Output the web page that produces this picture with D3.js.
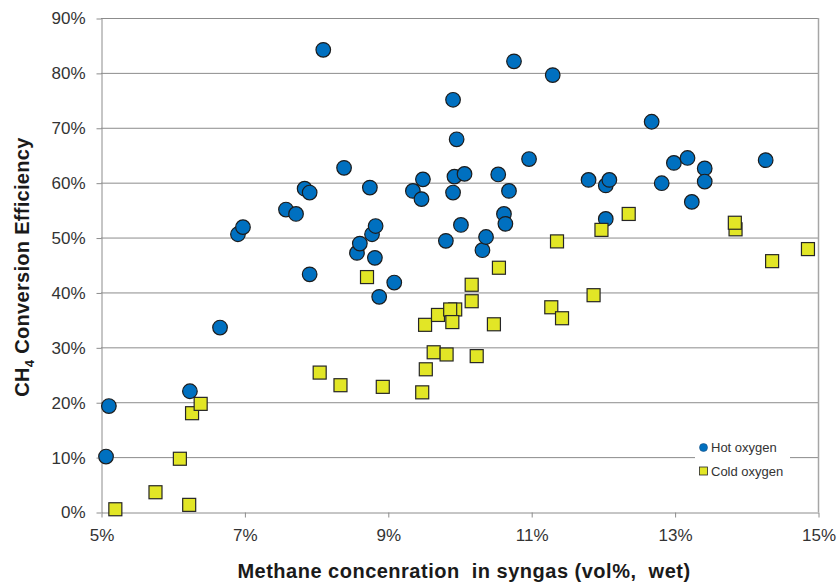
<!DOCTYPE html>
<html>
<head>
<meta charset="utf-8">
<script src="https://cdn.jsdelivr.net/npm/d3@7/dist/d3.min.js"></script>
<style>
  html, body { margin: 0; padding: 0; background: #fff; }
  svg { display: block; font-family: "Liberation Sans", Arial, sans-serif; }
</style>
</head>
<body>
<svg id="chart" width="837" height="584"></svg>
<script>
// Methane concentration (vol%, wet) and CH4 conversion efficiency (%)
const hotX = [5.07, 5.11, 6.24, 6.66, 6.91, 6.98, 7.58, 7.72, 7.84, 7.91, 7.91, 8.10, 8.39,
  8.57, 8.61, 8.75, 8.78, 8.82, 8.83, 8.88, 9.09, 9.35, 9.47, 9.49, 9.81, 9.91, 9.91, 9.93,
  9.96, 10.02, 10.07, 10.32, 10.37, 10.54, 10.62, 10.64, 10.69, 10.76, 10.97, 11.30, 11.80,
  12.04, 12.04, 12.09, 12.68, 12.82, 12.99, 13.18, 13.24, 13.42, 13.42, 14.27];
const hotY = [10.1, 19.3, 22.0, 33.6, 50.6, 51.9, 55.1, 54.3, 58.9, 58.2, 43.3, 84.2, 62.7,
  47.2, 48.9, 59.1, 50.6, 46.3, 52.1, 39.2, 41.8, 58.5, 57.0, 60.6, 49.4, 75.1, 58.2, 61.1,
  67.9, 52.3, 61.6, 47.7, 50.1, 61.5, 54.3, 52.5, 58.5, 82.1, 64.3, 79.6, 60.5,
  59.5, 53.4, 60.5, 71.1, 59.9, 63.6, 64.5, 56.5, 62.6, 60.2, 64.1];

const coldX = [5.20, 5.76, 6.10, 6.23, 6.27, 6.39, 8.05, 8.34, 8.71, 8.93, 9.48, 9.53, 9.52,
  9.64, 9.70, 9.82, 9.94, 9.87, 9.90, 10.17, 10.17, 10.24, 10.48, 10.55, 11.28, 11.36, 11.43,
  11.87, 11.98, 12.36, 13.85, 13.84, 14.36, 14.86];
const coldY = [0.5, 3.6, 9.7, 1.3, 18.0, 19.7, 25.4, 23.1, 42.8, 22.8, 21.8, 26.0, 34.1,
  29.1, 35.9, 28.7, 36.9, 36.9, 34.6, 41.4, 38.4, 28.4, 34.2, 44.5, 37.3, 49.3, 35.3,
  39.5, 51.4, 54.3, 51.5, 52.7, 45.7, 47.9];

const xTicks = [5, 7, 9, 11, 13, 15];
const yTicks = [0, 10, 20, 30, 40, 50, 60, 70, 80, 90];
const seriesNames = ["Hot oxygen", "Cold oxygen"];

const svg = d3.select("#chart");
const plotLeft = 101, plotRight = 818, plotTop = 18, plotBottom = 512;

const x = d3.scaleLinear().domain([5, 15]).range([plotLeft, plotRight]);
const y = d3.scaleLinear().domain([0, 90]).range([plotBottom, plotTop]);

const gridColor = "#8c8c8c";
const textColor = "#333";

// horizontal gridlines
svg.append("g")
  .selectAll("line")
  .data(yTicks.filter(d => d > 0))
  .join("line")
  .attr("x1", plotLeft).attr("x2", plotRight)
  .attr("y1", d => y(d) + 0.5).attr("y2", d => y(d) + 0.5)
  .attr("stroke", gridColor).attr("stroke-width", 1);

// right border of plot area
svg.append("line")
  .attr("x1", plotRight + 0.5).attr("x2", plotRight + 0.5)
  .attr("y1", plotTop).attr("y2", plotBottom)
  .attr("stroke", "#a6a6a6").attr("stroke-width", 1.5);

// y axis
const yAxis = svg.append("g")
  .attr("transform", `translate(${plotLeft + 0.5},0.5)`)
  .call(d3.axisLeft(y).tickValues(yTicks).tickFormat(d => d + "%").tickSize(5).tickSizeOuter(0));
yAxis.select(".domain").attr("stroke", gridColor);
yAxis.selectAll(".tick line").attr("stroke", gridColor);
yAxis.selectAll(".tick text")
  .attr("x", -16)
  .attr("fill", textColor)
  .style("font-size", "17px")
  .style("font-family", "'Liberation Sans', Arial, sans-serif");

// x axis
const xAxis = svg.append("g")
  .attr("transform", `translate(0.5,${plotBottom + 0.5})`)
  .call(d3.axisBottom(x).tickValues(xTicks).tickFormat(d => d + "%").tickSize(5).tickSizeOuter(0));
xAxis.select(".domain").attr("stroke", gridColor);
xAxis.selectAll(".tick line").attr("stroke", gridColor);
xAxis.selectAll(".tick text")
  .attr("y", 16)
  .attr("fill", textColor)
  .style("font-size", "17px")
  .style("font-family", "'Liberation Sans', Arial, sans-serif");

// hot oxygen: blue circles
const hot = hotX.map((v, i) => ({ x: v, y: hotY[i] }));
svg.append("g")
  .selectAll("circle")
  .data(hot)
  .join("circle")
  .attr("cx", d => x(d.x))
  .attr("cy", d => y(d.y))
  .attr("r", 7.3)
  .attr("fill", "#0070c0")
  .attr("stroke", "#1c1c1c")
  .attr("stroke-width", 1.2);

// cold oxygen: yellow squares
const cold = coldX.map((v, i) => ({ x: v, y: coldY[i] }));
const sq = 13;
svg.append("g")
  .selectAll("rect")
  .data(cold)
  .join("rect")
  .attr("x", d => x(d.x) - sq / 2)
  .attr("y", d => y(d.y) - sq / 2)
  .attr("width", sq).attr("height", sq)
  .attr("fill", "#e2e626")
  .attr("stroke", "#262626")
  .attr("stroke-width", 1.2);

// legend
const legend = svg.append("g");
legend.append("rect")
  .attr("x", 695).attr("y", 437).attr("width", 95).attr("height", 46)
  .attr("fill", "#fff");
const lg = legend.selectAll("g.item")
  .data(seriesNames)
  .join("g")
  .attr("class", "item")
  .attr("transform", (d, i) => `translate(703.5,${447.5 + i * 23.5})`);
lg.filter((d, i) => i === 0).append("circle")
  .attr("r", 4).attr("fill", "#0070c0").attr("stroke", "#1c4f80").attr("stroke-width", 0.6);
lg.filter((d, i) => i === 1).append("rect")
  .attr("x", -4).attr("y", -4).attr("width", 8).attr("height", 8)
  .attr("fill", "#e2e626").attr("stroke", "#262626").attr("stroke-width", 0.8);
lg.append("text")
  .attr("x", 7.5).attr("dy", "0.36em")
  .attr("fill", textColor)
  .style("font-size", "13px")
  .text(d => d);

// axis titles
svg.append("text")
  .attr("x", 464).attr("y", 578)
  .attr("text-anchor", "middle")
  .attr("fill", "#1a1a1a")
  .style("font-size", "20px").style("font-weight", "bold")
  .style("letter-spacing", "0.5px")
  .style("white-space", "pre")
  .text("Methane concenration  in syngas (vol%,  wet)");

const yt = svg.append("text")
  .attr("transform", "translate(29,267) rotate(-90)")
  .attr("text-anchor", "middle")
  .attr("fill", "#1a1a1a")
  .style("font-size", "20px").style("font-weight", "bold")
  .style("letter-spacing", "0.3px");
yt.append("tspan").text("CH");
yt.append("tspan").attr("dy", 5).style("font-size", "13px").text("4");
yt.append("tspan").attr("dy", -5).text(" Conversion Efficiency");
</script>
</body>
</html>
